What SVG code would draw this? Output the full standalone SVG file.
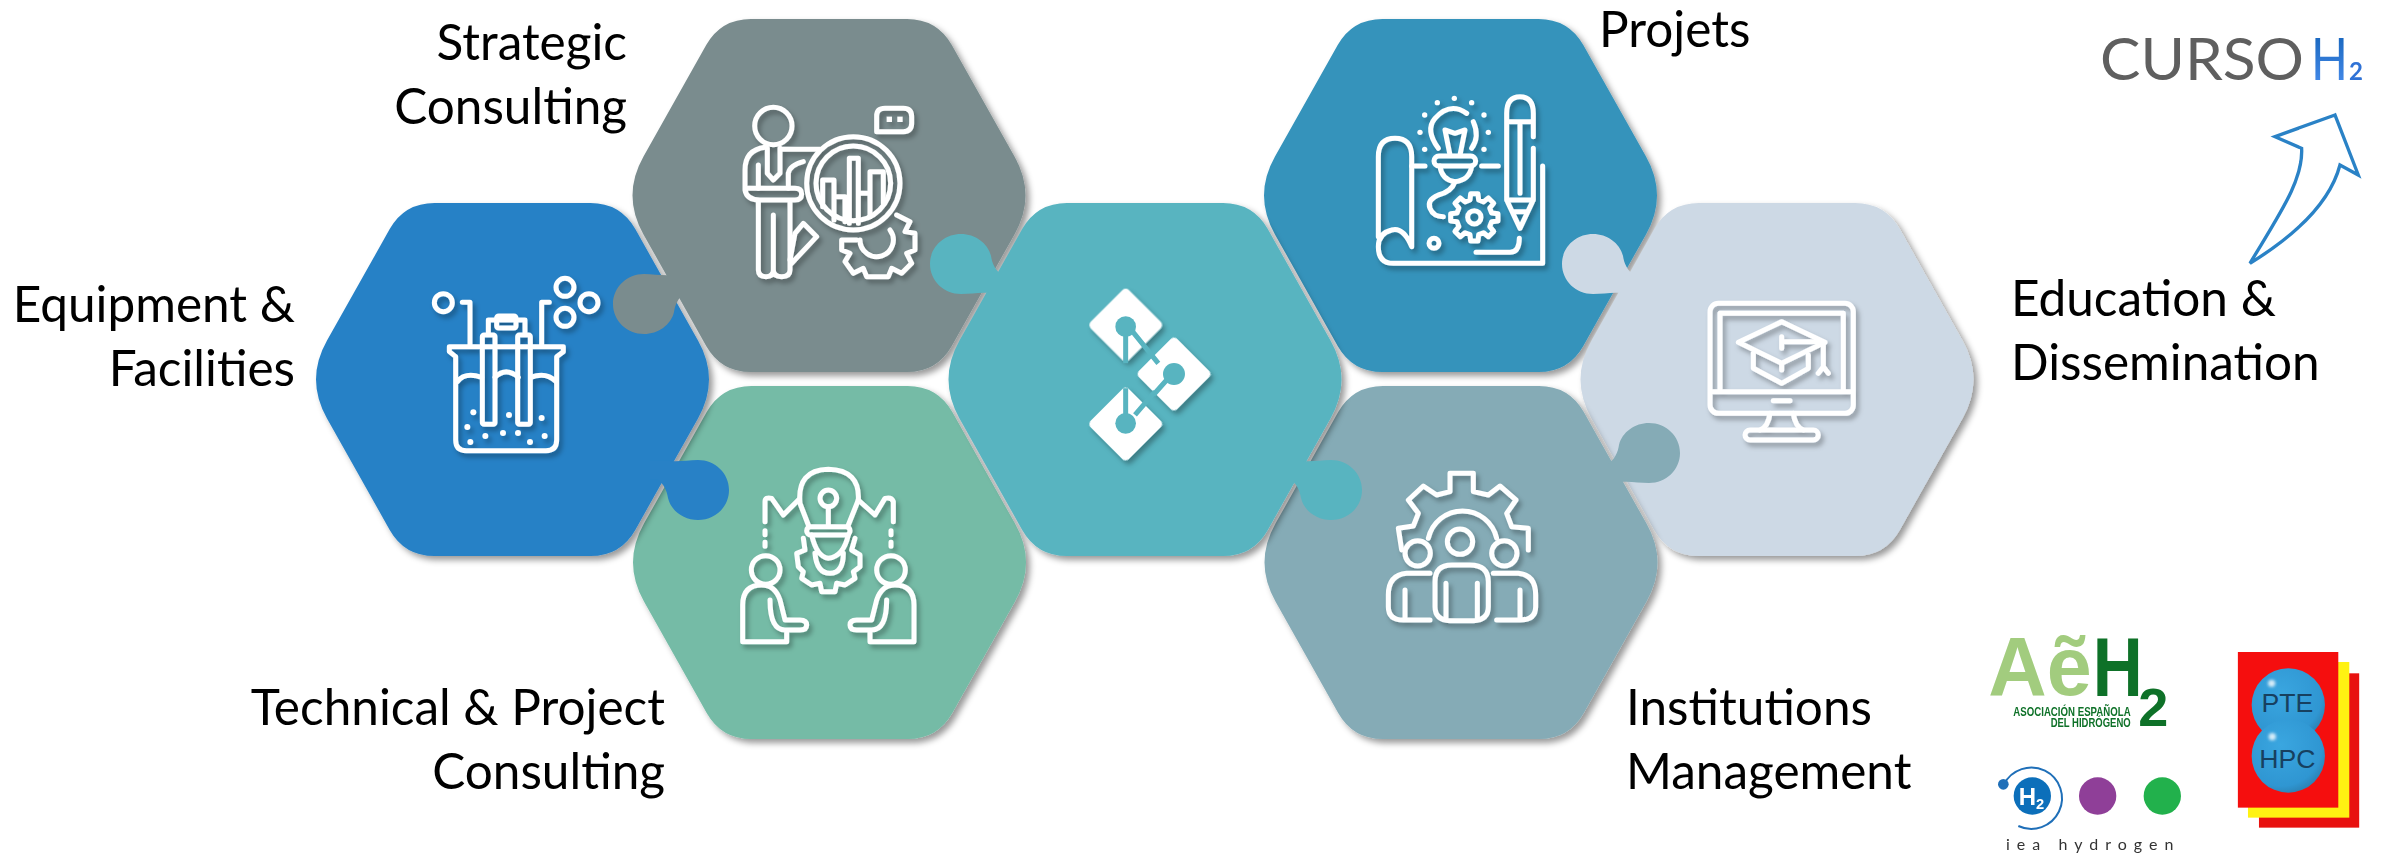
<svg xmlns="http://www.w3.org/2000/svg" width="2381" height="855" viewBox="0 0 2381 855">
<style>
.ic{fill:none;stroke:#fff;stroke-width:15;stroke-linecap:round;stroke-linejoin:round}
.w{fill:#fff;stroke:none}
.lb{font-family:Lato,"Liberation Sans",sans-serif;font-size:49.5px;fill:#000}
.e{text-anchor:end}
</style>
<defs>
<filter id="hs" x="-10%" y="-10%" width="120%" height="120%"><feDropShadow dx="4" dy="4" stdDeviation="3" flood-color="#000" flood-opacity=".4"/></filter>
<filter id="is" x="-15%" y="-15%" width="130%" height="130%"><feDropShadow dx="9" dy="12" stdDeviation="8" flood-color="#000" flood-opacity=".3"/></filter>
<filter id="bl" x="-50%" y="-50%" width="200%" height="200%"><feGaussianBlur stdDeviation="5"/></filter>
<path id="hex" d="M-78 -176.5H78Q108 -176.5 122.8 -150.4L185.5 -38.9Q207.5 0 185.5 38.9L122.8 150.4Q108 176.5 78 176.5H-78Q-108 176.5 -122.8 150.4L-185.5 38.9Q-207.5 0 -185.5 -38.9L-122.8 -150.4Q-108 -176.5 -78 -176.5Z"/>
<path id="knob" d="M41 11C34 6 31 -1 30 -8C27 -21 14 -30 0 -30C-17 -30 -31 -17 -31 0C-31 17 -17 30 0 30C10 30 19 28 28 29L48 29L48 11Z"/>
<path id="gear" d="M-13 -52L-11 -71H11L13 -52L27.8 -46.3L42.3 -58.2L58.2 -42.3L46.3 -27.8L52 -13L71 -11V11L52 13L46.3 27.8L58.2 42.3L42.3 58.2L27.8 46.3L13 52L11 71H-11L-13 52L-27.8 46.3L-42.3 58.2L-58.2 42.3L-46.3 27.8L-52 13L-71 11V-11L-52 -13L-46.3 -27.8L-58.2 -42.3L-42.3 -58.2L-27.8 -46.3Z"/>
<radialGradient id="ball" cx=".4" cy=".35" r=".7"><stop offset="0" stop-color="#3aa6e0"/><stop offset=".8" stop-color="#2f96d2"/><stop offset="1" stop-color="#2b7fb0"/></radialGradient>
<linearGradient id="hg" x1="0" y1="0" x2="0" y2="1"><stop offset="0" stop-color="#0f5fb4"/><stop offset="1" stop-color="#4b8ff0"/></linearGradient>
</defs>
<rect width="2381" height="855" fill="#fff"/>
<g id="connectors"></g>

<g id="node-technical">
<use href="#hex" transform="translate(829.5 562.5)" fill="#74BBA6" filter="url(#hs)"/>
<g transform="translate(720 450) scale(.3333)" filter="url(#is)"><g class="ic">
<path d="M265 225L240 160Q230 60 325 58Q420 60 415 150L385 225"/><circle cx="325" cy="145" r="25"/><path d="M325 170V228"/>
<rect x="260" y="230" width="130" height="25" rx="12"/>
<path d="M275 255Q290 320 325 325Q370 320 385 255M285 310Q290 370 330 370Q370 370 370 310"/>
<path d="M250 265L255 300L230 310L235 350L250 365L245 385L275 405L300 400L305 425H345L350 400L375 405L405 385L400 365L420 350V315L395 300L405 265"/>
<path d="M135 215V155Q135 140 155 145L190 195L235 150M520 215V155Q515 140 495 145L465 195L415 150"/>
<path d="M135 242V254M135 277V289M513 242V254M513 277V289"/>
<circle cx="137" cy="360" r="43"/><circle cx="513" cy="360" r="43"/>
<path d="M200 575H68V465Q68 405 125 405Q165 405 180 450L195 510H240Q260 510 260 525Q260 540 240 540H195Q150 540 150 450M200 540V575"/>
<path d="M450 575H582V465Q582 405 525 405Q485 405 470 450L455 510H410Q390 510 390 525Q390 540 410 540H455Q500 540 500 450M450 540V575"/>
</g></g>
</g>

<g id="node-equipment">
<use href="#hex" transform="translate(512.5 379.5)" fill="#2881C6" filter="url(#hs)"/>
<use href="#knob" transform="translate(698 490) scale(-1 -1)" fill="#2881C6"/>
<g transform="translate(400 240) scale(.3333)" filter="url(#is)"><g class="ic">
<circle cx="130" cy="188" r="27"/><circle cx="495" cy="142" r="27"/><circle cx="567" cy="188" r="27"/><circle cx="495" cy="232" r="27"/>
<path d="M187 187H210V315M448 187H425V315"/>
<path d="M470 350L490 335V320H148V335L167 350V600Q167 632 199 632H438Q470 632 470 600Z"/>
<path d="M172 425Q195 395 245 412M285 412Q318 380 355 412M392 412Q440 395 468 425"/>
<rect x="247" y="285" width="38" height="268" rx="5"/><rect x="353" y="285" width="38" height="268" rx="5"/>
<path d="M265 280V240H375V280"/><rect x="290" y="228" width="58" height="36" rx="6"/>
</g><g class="w"><circle cx="220" cy="517" r="9"/><circle cx="327" cy="525" r="9"/><circle cx="425" cy="534" r="9"/><circle cx="202" cy="561" r="9"/><circle cx="256" cy="588" r="9"/><circle cx="309" cy="579" r="9"/><circle cx="354" cy="579" r="9"/><circle cx="434" cy="588" r="9"/><circle cx="211" cy="606" r="9"/><circle cx="390" cy="606" r="9"/></g></g>
</g>

<g id="node-strategic">
<use href="#hex" transform="translate(829 195.5)" fill="#7A8C8E" filter="url(#hs)"/>
<use href="#knob" transform="translate(644 304) scale(1 -1)" fill="#7A8C8E"/>
<g transform="translate(710 90) scale(.3333)" filter="url(#is)"><g class="ic">
<circle cx="190" cy="108" r="56"/>
<path d="M500 125V78Q500 55 525 55H580Q605 55 605 80V100Q605 125 580 125Z"/>
<path d="M165 172Q105 180 105 240V300Q110 330 150 330H255Q275 330 275 312Q275 295 255 295H110"/>
<path d="M145 225V295M235 295V250Q240 225 280 215M215 178H330"/>
<path d="M172 175V250L190 270L210 250V175"/>
<path d="M145 335V540Q145 560 168 560Q190 560 190 540V375M190 540Q190 560 215 560Q240 560 240 540V335"/>
<circle cx="430" cy="280" r="140"/><circle cx="430" cy="280" r="112"/>
<path d="M338 350V270H372V390M372 320H405V395M418 400V205H445V400M445 310H480M480 380V245H520V340"/>
<path d="M240 510L255 430L280 400L320 440L245 520"/>
<path d="M560 375L600 395L585 425L615 430V480L590 490L605 520L575 550L545 535L535 560H470L460 535L430 550L405 515L420 490L395 480V450H440"/>
<path d="M540 420A50 50 0 1 1 450 450"/>
</g><g class="w"><rect x="530" y="80" width="16" height="16"/><rect x="562" y="80" width="16" height="16"/></g></g>
</g>

<g id="node-projets">
<use href="#hex" transform="translate(1460.5 195.5)" fill="#3693BB" filter="url(#hs)"/>
<g transform="translate(1360 80) scale(.3333)" filter="url(#is)"><g class="ic">
<path d="M55 470V230Q55 175 105 175Q155 175 155 230V500Q130 440 95 450Q55 460 55 500Q55 550 100 550H548V258"/>
<path d="M155 258H195M365 258H415"/>
<path d="M340 125Q360 170 335 205M235 205Q195 150 225 115Q270 65 320 100"/>
<path d="M270 225L255 150L285 160L315 150L300 225"/>
<rect x="222" y="228" width="125" height="30" rx="15"/>
<path d="M240 258Q245 300 285 305Q330 300 335 258M285 305Q275 335 235 345Q200 360 210 385Q220 410 250 410"/>
<use href="#gear" transform="translate(343 412)"/><circle cx="343" cy="412" r="20"/>
<path d="M520 170V100Q520 50 480 50Q440 50 440 100V360L480 445L520 360V205M440 125H520M440 360H520M480 130V340M463 395H497"/>
<path d="M348 517H450Q478 517 478 475"/>
<circle cx="222" cy="490" r="15"/>
</g><g class="w"><circle cx="283" cy="55" r="8"/><circle cx="232" cy="68" r="8"/><circle cx="335" cy="68" r="8"/><circle cx="194" cy="105" r="8"/><circle cx="372" cy="105" r="8"/><circle cx="180" cy="157" r="8"/><circle cx="385" cy="157" r="8"/><circle cx="372" cy="208" r="8"/><circle cx="194" cy="208" r="8"/></g></g>
</g>

<g id="node-education">
<use href="#hex" transform="translate(1777 379.5)" fill="#CDD9E5" filter="url(#hs)"/>
<use href="#knob" transform="translate(1593 264)" fill="#CDD9E5"/>
<g transform="translate(1680 280) scale(.3333)" filter="url(#is)"><g class="ic">
<rect x="90" y="70" width="430" height="330" rx="25"/>
<path d="M120 335V100H490V335M95 335H515M280 362H330"/>
<path d="M270 400Q265 440 240 450M340 400Q345 440 370 450"/><rect x="195" y="450" width="220" height="30" rx="15"/>
<path d="M175 187L305 125L435 187L305 250Z"/>
<path d="M220 220V265L305 310L385 265V225M305 250V270M305 170V205M305 185H425M430 190V265M415 280L430 260L445 280"/>
</g></g>
</g>

<g id="node-institutions">
<use href="#hex" transform="translate(1461 562.5)" fill="#85ABB6" filter="url(#hs)"/>
<use href="#knob" transform="translate(1649 453) scale(-1 1)" fill="#85ABB6"/>
<g transform="translate(1370 460) scale(.3333)" filter="url(#is)"><g class="ic">
<path d="M95 270L85 205L130 198L145 160L115 120L160 78L200 105L240 95V40H310V95L355 105L390 78L438 120L410 160L425 200L475 205V270"/>
<path d="M175 235A105 105 0 0 1 380 235"/>
<circle cx="143" cy="280" r="38"/><circle cx="270" cy="245" r="38"/><circle cx="403" cy="280" r="38"/>
<path d="M195 440V365Q195 315 245 315H300Q355 315 355 365V440Q355 480 310 482H240Q195 480 195 440ZM228 370V480M322 370V480"/>
<path d="M180 340H110Q55 345 55 405V440Q55 480 100 480H180M105 390V475M370 340H445Q497 345 497 405V440Q497 480 450 480H380M450 390V475"/>
</g></g>
</g>

<g id="node-center">
<use href="#hex" transform="translate(1145 379.5)" fill="#58B4C0" filter="url(#hs)"/>
<use href="#knob" transform="translate(961 264)" fill="#58B4C0"/>
<use href="#knob" transform="translate(1331 490) scale(-1 -1)" fill="#58B4C0"/>
<g transform="translate(1060 280) scale(.3333)">
<g filter="url(#is)" class="w">
<rect x="-81" y="-81" width="162" height="162" rx="14" transform="translate(197 135) rotate(45)"/>
<rect x="-81" y="-81" width="162" height="162" rx="14" transform="translate(342 282) rotate(45)"/>
<rect x="-81" y="-81" width="162" height="162" rx="14" transform="translate(197 432) rotate(45)"/>
</g>
<g fill="none" stroke="#58B4C0" stroke-width="15">
<path d="M197 160V250M218 155L295 250M320 300L280 345M197 325V405M225 405L285 335"/>
</g>
<g fill="#58B4C0"><circle cx="197" cy="140" r="31"/><circle cx="342" cy="282" r="33"/><circle cx="197" cy="430" r="31"/></g>
</g>
</g>

<g id="labels">
<text class="lb e" x="627" y="60">Strategic</text>
<text class="lb e" x="627" y="124">Consulting</text>
<text class="lb" x="1599" y="47">Projets</text>
<text class="lb e" x="295" y="322">Equipment &amp;</text>
<text class="lb e" x="295" y="386">Facilities</text>
<text class="lb e" x="665" y="725">Technical &amp; Project</text>
<text class="lb e" x="665" y="789">Consulting</text>
<text class="lb" x="1626" y="725">Institutions</text>
<text class="lb" x="1626" y="789">Management</text>
<text class="lb" x="2011" y="316">Education &amp;</text>
<text class="lb" x="2011" y="380">Dissemination</text>
</g>

<g id="curso">
<text x="2100" y="80" font-family="Lato,sans-serif" font-weight="400" font-size="58" fill="#5f5f5f" textLength="204" lengthAdjust="spacingAndGlyphs">CURSO</text>
<text x="2311" y="80" font-family="Lato,sans-serif" font-weight="400" font-size="58" fill="url(#hg)" textLength="37" lengthAdjust="spacingAndGlyphs">H</text>
<text x="2349" y="80" font-family="Lato,sans-serif" font-weight="700" font-size="24" fill="#2f72d6">2</text>
<path transform="translate(1960 0) scale(.3333)" d="M1125 345L945 410L1025 445C1030 540 960 640 870 790C1000 710 1110 610 1140 495L1195 525Z" fill="none" stroke="#2A82C6" stroke-width="10"/>
</g>

<g id="logo-aeh2" transform="translate(1960 600) scale(.3333)" font-family="'Liberation Sans',sans-serif" font-weight="700">
<text x="85" y="287" font-size="252" fill="#A2CC7E" textLength="310" lengthAdjust="spacingAndGlyphs">Aẽ</text>
<text x="398" y="287" font-size="252" fill="#0E7128" textLength="150" lengthAdjust="spacingAndGlyphs">H</text>
<text x="535" y="378" font-size="162" fill="#0E7128">2</text>
<text x="160" y="348" font-size="36" fill="#0E7128" textLength="352" lengthAdjust="spacingAndGlyphs">ASOCIACIÓN ESPAÑOLA</text>
<text x="272" y="380" font-size="36" fill="#0E7128" textLength="240" lengthAdjust="spacingAndGlyphs">DEL HIDRÓGENO</text>
</g>

<g id="logo-iea" transform="translate(1960 600) scale(.3333)">
<path d="M132 553A92 92 0 1 1 175 678" fill="none" stroke="#1F6FB8" stroke-width="6"/>
<circle cx="130" cy="553" r="16" fill="#1F6FB8"/>
<circle cx="217" cy="588" r="56" fill="#0C6FBA"/>
<text x="176" y="614" font-family="'Liberation Sans',sans-serif" font-weight="700" font-size="72" fill="#fff">H</text>
<text x="228" y="628" font-family="'Liberation Sans',sans-serif" font-weight="700" font-size="44" fill="#fff">2</text>
<circle cx="413" cy="588" r="56" fill="#8F3F98"/>
<circle cx="607" cy="588" r="56" fill="#22B14C"/>
<text x="138" y="750" font-family="Lato,sans-serif" font-weight="400" font-size="48" fill="#333" textLength="502">iea hydrogen</text>
</g>

<g id="logo-pte" transform="translate(1960 600) scale(.3333)">
<rect x="897" y="220" width="301" height="463" fill="#E8110F"/>
<rect x="864" y="186" width="304" height="467" fill="#FFF212"/>
<rect x="833" y="156" width="302" height="467" fill="#F50E0E"/>
<circle cx="985" cy="315" r="110" fill="url(#ball)"/>
<circle cx="985" cy="468" r="110" fill="url(#ball)"/>
<circle cx="935" cy="250" r="11" fill="#fff" opacity=".8" filter="url(#bl)"/>
<circle cx="937" cy="410" r="11" fill="#fff" opacity=".8" filter="url(#bl)"/>
<text x="982" y="337" text-anchor="middle" font-family="'Liberation Sans',sans-serif" font-size="80" fill="#17405F">PTE</text>
<text x="982" y="503" text-anchor="middle" font-family="'Liberation Sans',sans-serif" font-size="80" fill="#17405F">HPC</text>
</g>
</svg>
